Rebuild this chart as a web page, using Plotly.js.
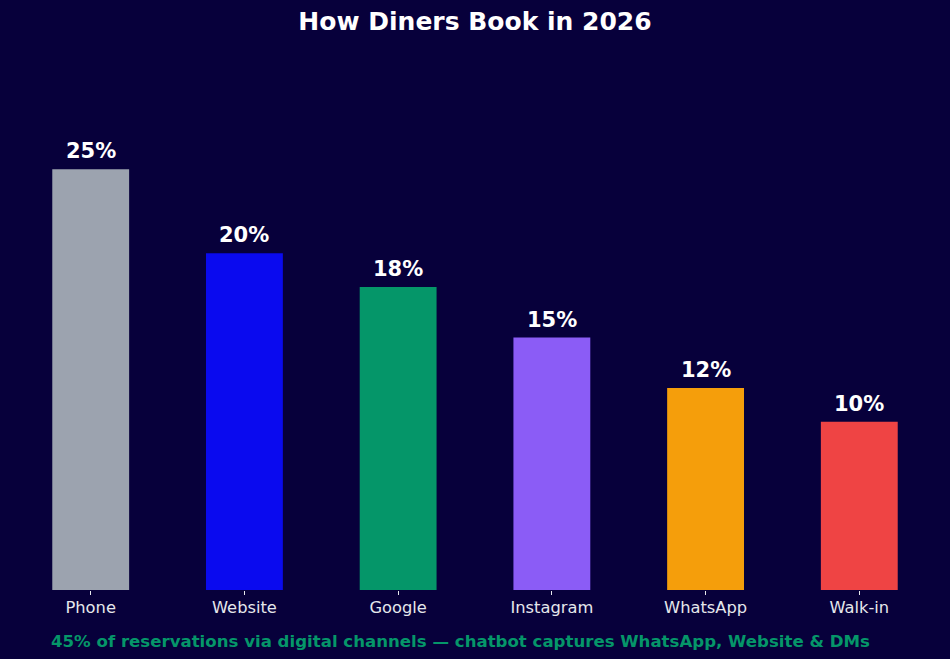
<!DOCTYPE html>
<html>
<head>
<meta charset="utf-8">
<script src="https://cdn.plot.ly/plotly-3.0.1.min.js"></script>
<style>
  html, body { margin: 0; padding: 0; background: #07003b; }
  #plot { width: 950px; height: 659px; }
</style>
</head>
<body>
<div id="plot"></div>
<script>
// Booking channels and their share (%)
const channels = ['Phone', 'Website', 'Google', 'Instagram', 'WhatsApp', 'Walk-in'];
const shares = [25, 20, 18, 15, 12, 10];
const barColors = ['#9ca3af', '#0a0aef', '#059669', '#8b5cf6', '#f59e0b', '#ef4444'];

const titleText = 'How Diners Book in 2026';
const footerText = '45% of reservations via digital channels \u2014 chatbot captures WhatsApp, Website & DMs';

const bg = '#07003b';
const font = 'DejaVu Sans, sans-serif';

const bars = {
  type: 'bar',
  x: channels,
  y: shares,
  width: 0.5,
  marker: { color: barColors, line: { width: 0 } },
  hoverinfo: 'x+y'
};

// value labels above each bar
const labels = channels.map((c, i) => ({
  x: c, y: shares[i],
  xref: 'x', yref: 'y',
  text: '<b>' + shares[i] + '%</b>',
  showarrow: false,
  yanchor: 'bottom',
  yshift: 4,
  font: { family: font, size: 21, color: '#ffffff' }
}));

labels.push({
  x: 460 / 950, y: 0.0,
  xref: 'paper', yref: 'paper',
  yshift: -51,
  xanchor: 'center', yanchor: 'middle',
  text: '<b>' + footerText + '</b>',
  showarrow: false,
  font: { family: font, size: 16.6, color: '#059669' }
});

const layout = {
  width: 950,
  height: 659,
  paper_bgcolor: bg,
  plot_bgcolor: bg,
  margin: { l: 10, r: 10, t: 85, b: 69 },
  title: {
    text: '<b>' + titleText + '</b>',
    x: 0.5, xanchor: 'center',
    y: 1 - 21 / 659, yanchor: 'middle', yref: 'container',
    font: { family: font, size: 25, color: '#ffffff' }
  },
  xaxis: {
    range: [-0.525, 5.525],
    showgrid: false,
    zeroline: false,
    showline: false,
    ticks: 'outside',
    ticklen: 4,
    tickwidth: 1,
    tickcolor: '#e5e7eb',
    ticklabelstandoff: -2,
    tickfont: { family: font, size: 16.3, color: '#e5e7eb' },
    fixedrange: true
  },
  yaxis: {
    range: [0, 30],
    visible: false,
    showgrid: false,
    zeroline: false,
    fixedrange: true
  },
  annotations: labels,
  showlegend: false,
  bargap: 0.5
};

Plotly.newPlot('plot', [bars], layout, { displayModeBar: false, staticPlot: true });
</script>
</body>
</html>
